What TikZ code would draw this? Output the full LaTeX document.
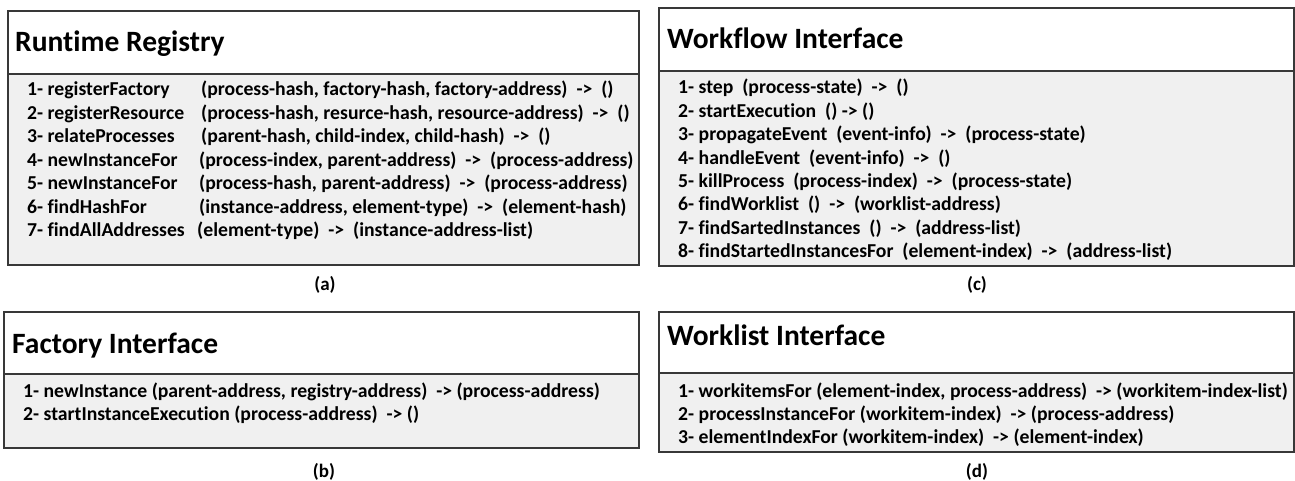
\documentclass[tikz,border=0pt]{standalone}
\usepackage{fontspec}
\setmainfont{Carlito}[Ligatures={NoCommon}]
\begin{document}
\begin{tikzpicture}[x=1pt,y=-1pt,
  boxline/.style={draw=black!78,line width=1.3pt},
  bodyfill/.style={fill=black!6},
  ttl/.style={anchor=base west,inner sep=0pt,font=\fontsize{29.5}{34}\selectfont\bfseries},
  rowtxt/.style={anchor=base west,inner sep=0pt,font=\fontsize{19.7}{23}\selectfont\bfseries},
  sublabel/.style={anchor=center,inner sep=0pt,font=\fontsize{19}{22}\selectfont\bfseries}]
\useasboundingbox (0,0) rectangle (1295,481);
% ---------- (a) Runtime Registry
\path[bodyfill] (8,74) rectangle (639,265);
\draw[boxline] (8,11) rectangle (639,265);
\draw[boxline] (8,74) -- (639,74);
\node[ttl] (at) at (15,52) {Runtime Registry};
\node[rowtxt] (a1) at (27,96) {1- registerFactory};
\node[rowtxt] (a1p) at (201,96) {(process-hash, factory-hash, factory-address)\ \ ->\ \ ()};
\node[rowtxt] (a2) at (27,119.4) {2- registerResource};
\node[rowtxt] (a2p) at (201,119.4) {(process-hash, resurce-hash, resource-address)\ \ ->\ \ ()};
\node[rowtxt] (a3) at (27,142.8) {3- relateProcesses};
\node[rowtxt] (a3p) at (201,142.8) {(parent-hash, child-index, child-hash)\ \ ->\ \ ()};
\node[rowtxt] (a4) at (27,166.2) {4- newInstanceFor};
\node[rowtxt] (a4p) at (199,166.2) {(process-index, parent-address)\ \ ->\ \ (process-address)};
\node[rowtxt] (a5) at (27,189.6) {5- newInstanceFor};
\node[rowtxt] (a5p) at (199,189.6) {(process-hash, parent-address)\ \ ->\ \ (process-address)};
\node[rowtxt] (a6) at (27,213) {6- findHashFor};
\node[rowtxt] (a6p) at (199,213) {(instance-address, element-type)\ \ ->\ \ (element-hash)};
\node[rowtxt] (a7) at (27,236.4) {7- findAllAddresses};
\node[rowtxt] (a7p) at (197,236.4) {(element-type)\ \ ->\ \ (instance-address-list)};
\node[sublabel] (la) at (325,285) {(a)};
% ---------- (c) Workflow Interface
\path[bodyfill] (659,71) rectangle (1294,266);
\draw[boxline] (659,8) rectangle (1294,266);
\draw[boxline] (659,71) -- (1294,71);
\node[ttl] (ct) at (667,49) {Workflow Interface};
\node[rowtxt] (c1) at (678,94) {1- step\ \ (process-state)\ \ ->\ \ ()};
\node[rowtxt] (c2) at (678,117.4) {2- startExecution\ \ () -> ()};
\node[rowtxt] (c3) at (678,140.8) {3- propagateEvent\ \ (event-info)\ \ ->\ \ (process-state)};
\node[rowtxt] (c4) at (678,164.2) {4- handleEvent\ \ (event-info)\ \ ->\ \ ()};
\node[rowtxt] (c5) at (678,187.6) {5- killProcess\ \ (process-index)\ \ ->\ \ (process-state)};
\node[rowtxt] (c6) at (678,211) {6- findWorklist\ \ ()\ \ ->\ \ (worklist-address)};
\node[rowtxt] (c7) at (678,234.4) {7- findSartedInstances\ \ ()\ \ ->\ \ (address-list)};
\node[rowtxt] (c8) at (678,257.8) {8- findStartedInstancesFor\ \ (element-index)\ \ ->\ \ (address-list)};
\node[sublabel] (lc) at (977,285) {(c)};
% ---------- (b) Factory Interface
\path[bodyfill] (4,374) rectangle (639,448);
\draw[boxline] (4,312) rectangle (639,448);
\draw[boxline] (4,374) -- (639,374);
\node[ttl] (bt) at (12,353) {Factory Interface};
\node[rowtxt] (b1) at (23,397) {1- newInstance (parent-address, registry-address)\ \ -> (process-address)};
\node[rowtxt] (b2) at (23,420.4) {2- startInstanceExecution (process-address)\ \ -> ()};
\node[sublabel] (lb) at (324,472) {(b)};
% ---------- (d) Worklist Interface
\path[bodyfill] (659,373) rectangle (1294,452);
\draw[boxline] (659,312) rectangle (1294,452);
\draw[boxline] (659,373) -- (1294,373);
\node[ttl] (dt) at (667,345) {Worklist Interface};
\node[rowtxt] (d1) at (678,397) {1- workitemsFor (element-index, process-address)\ \ -> (workitem-index-list)};
\node[rowtxt] (d2) at (678,420.4) {2- processInstanceFor (workitem-index)\ \ -> (process-address)};
\node[rowtxt] (d3) at (678,443.8) {3- elementIndexFor (workitem-index)\ \ -> (element-index)};
\node[sublabel] (ld) at (977,472) {(d)};
\end{tikzpicture}
\end{document}
